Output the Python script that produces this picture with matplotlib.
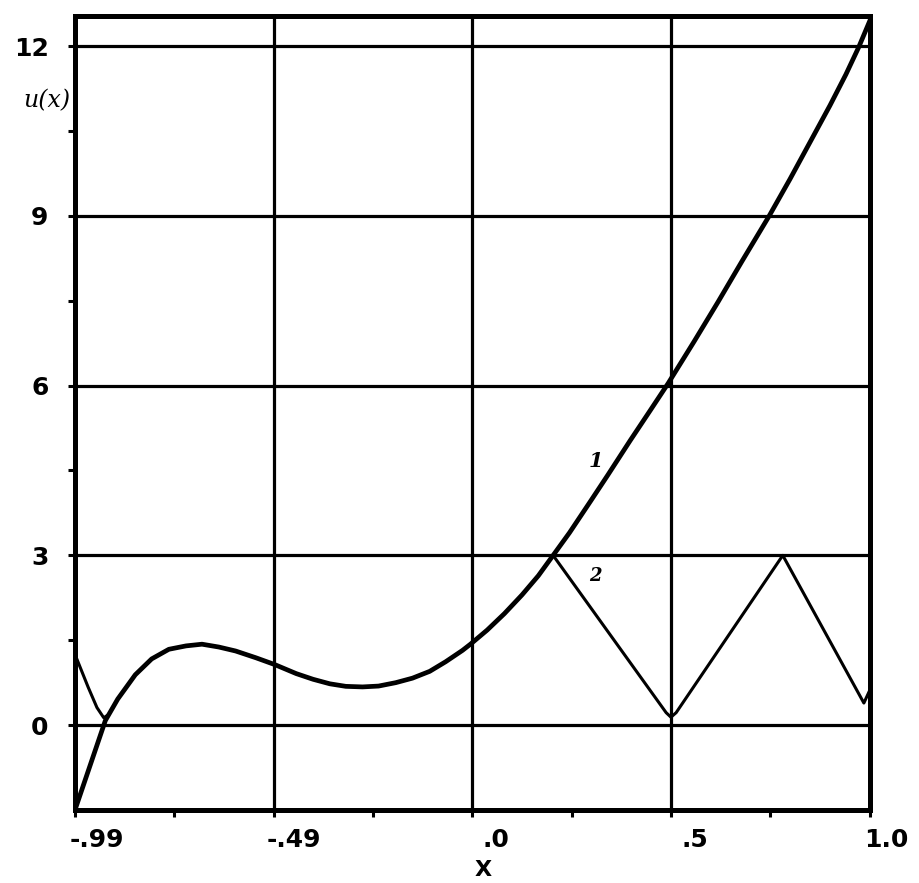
import matplotlib
matplotlib.use("Agg")
import matplotlib.pyplot as plt
from matplotlib.transforms import ScaledTranslation
import numpy as np

# curve 1 (smooth solution)
x1 = [-0.99, -0.914, -0.883, -0.839, -0.798, -0.755, -0.712, -0.672, -0.63,
      -0.588, -0.537, -0.49, -0.436, -0.394, -0.352, -0.312, -0.27, -0.23,
      -0.187, -0.145, -0.102, -0.062, -0.02, 0.0, 0.042, 0.085, 0.129, 0.17,
      0.207, 0.248, 0.30, 0.344, 0.40, 0.45, 0.495, 0.56, 0.62, 0.68, 0.748,
      0.80, 0.85, 0.90, 0.94, 0.972, 1.0]
y1 = [-1.5, 0.08, 0.46, 0.89, 1.17, 1.34, 1.40, 1.43, 1.38,
      1.31, 1.19, 1.07, 0.91, 0.81, 0.73, 0.685, 0.675, 0.69,
      0.75, 0.83, 0.95, 1.12, 1.32, 1.43, 1.68, 1.97, 2.30, 2.64,
      3.0, 3.4, 3.95, 4.42, 5.03, 5.56, 6.04, 6.78, 7.48, 8.2, 9.0,
      9.65, 10.3, 10.95, 11.5, 11.98, 12.45]

# curve 2: own left end, follows curve 1 between x2_join and x2_split,
# then a zigzag to the right edge
x2_left = [-0.99, -0.957, -0.935, -0.918, -0.905]
y2_left = [1.25, 0.67, 0.31, 0.13, 0.19]
x2_join, x2_split = -0.9, 0.207
x2_right = [0.49, 0.502, 0.515, 0.782, 0.985, 1.0]
y2_right = [0.22, 0.14, 0.22, 3.0, 0.39, 0.62]

xticks = np.linspace(-0.99, 1.0, 5)
xticklabels = ["-.99", "-.49", ".0", ".5", "1.0"]
yticks = [0, 3, 6, 9, 12]
yticklabels = ["0", "3", "6", "9", "12"]

fig = plt.figure(figsize=(9.2, 8.83), dpi=100)
ax = fig.add_axes([0.0815, 0.0827, 0.864, 0.899])

ax.set_xlim(-0.99, 1.0)
ax.set_ylim(-1.5, 12.53)

# grid lines
for xv in xticks[1:-1]:
    ax.axvline(xv, color="black", lw=2.3, zorder=1)
for yv in yticks:
    ax.axhline(yv, color="black", lw=2.3, zorder=1)

ax.plot(x1, y1, color="black", lw=3.4, zorder=3, solid_joinstyle="round")

mid = [(a, b) for a, b in zip(x1, y1) if x2_join <= a <= x2_split]
x2 = x2_left + [a for a, _ in mid] + x2_right
y2 = y2_left + [b for _, b in mid] + y2_right
ax.plot(x2, y2, color="black", lw=2.2, zorder=2, solid_joinstyle="round")

for s in ax.spines.values():
    s.set_linewidth(3.6)

ax.set_xticks(xticks)
ax.set_xticklabels(xticklabels, fontsize=18, fontweight="bold")
ax.set_xticks((xticks[:-1] + xticks[1:]) / 2, minor=True)
ax.set_yticks(yticks)
ax.set_yticklabels(yticklabels, fontsize=18, fontweight="bold")
ax.set_yticks([1.5, 4.5, 7.5, 10.5], minor=True)
ax.tick_params(which="both", direction="out", length=5, width=2.2)
ax.tick_params(axis="x", pad=8)
ax.tick_params(axis="y", pad=14)

offsets = [22, 20, 24, 24, 16]
for lab, dx in zip(ax.get_xticklabels(), offsets):
    lab.set_transform(lab.get_transform() + ScaledTranslation(dx / 100, 0, fig.dpi_scale_trans))

ax.text(-0.005, 0.894, "u(x)", transform=ax.transAxes, ha="right", va="center",
        fontsize=17, style="italic", family="DejaVu Serif")
ax.text(0.513, -0.076, "X", transform=ax.transAxes, ha="center", va="center",
        fontsize=16, fontweight="bold")

# curve numbers
ax.text(0.315, 4.66, "1", ha="center", va="center", fontsize=15,
        style="italic", family="DejaVu Serif", fontweight="bold")
ax.text(0.313, 2.63, "2", ha="center", va="center", fontsize=13,
        style="italic", family="DejaVu Serif", fontweight="bold")

fig.savefig("out.png", dpi=100)
